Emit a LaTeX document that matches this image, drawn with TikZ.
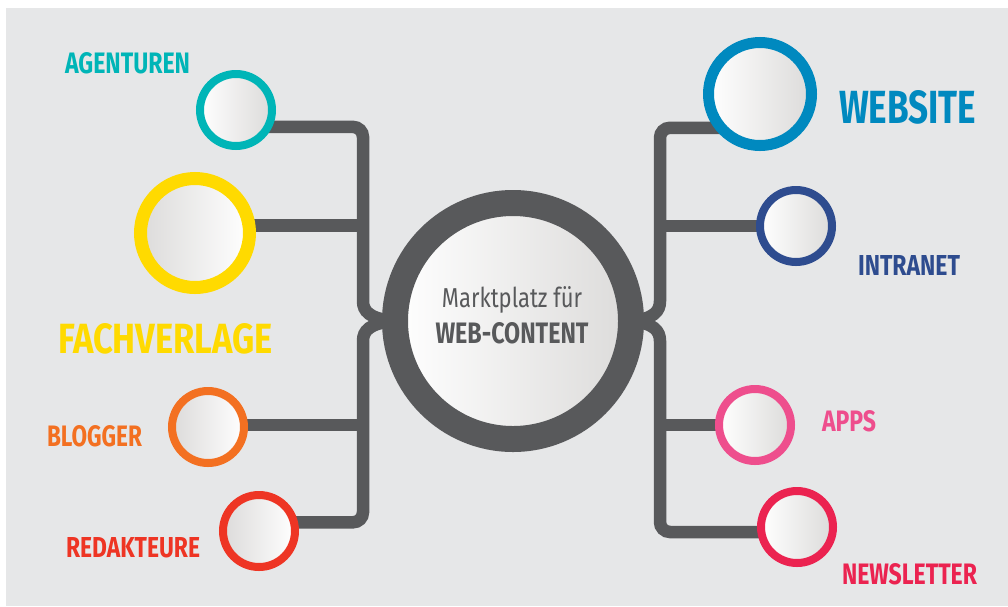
\documentclass[tikz,border=0pt]{standalone}
\usepackage{fontspec}
\setmainfont{Fira Sans}
\usepackage{graphicx}
\definecolor{bgC}{HTML}{E6E7E8}
\definecolor{connC}{HTML}{58595B}
\definecolor{innerG}{HTML}{DCDBDA}
\definecolor{agC}{HTML}{00B5B7}
\definecolor{fvC}{HTML}{FFDA00}
\definecolor{blC}{HTML}{F37021}
\definecolor{rdC}{HTML}{EE3524}
\definecolor{webC}{HTML}{0089BF}
\definecolor{inC}{HTML}{2E4C8F}
\definecolor{apC}{HTML}{EE4E8D}
\definecolor{nlC}{HTML}{EB2350}
\newcommand\lbl[3]{\resizebox{#1pt}{#2pt}{#3}}
\pgfdeclarelayer{bg}
\pgfsetlayers{bg,main}
\begin{document}
\begin{tikzpicture}[x=1pt,y=-1pt,
  bub/.style={circle, inner sep=0pt, outer sep=0pt, draw=#1, minimum size=72pt, line width=8pt},
  shLR/.style={left color=white, right color=innerG},
  shRL/.style={left color=innerG, right color=white},
  conn/.style={draw=connC, line width=12.5pt, rounded corners=10pt},
  lab/.style={inner sep=0pt, outer sep=0pt, anchor=base west, font=\bfseries}]
\useasboundingbox (0,0) rectangle (1008,606);
\begin{pgfonlayer}{bg}
  \fill[white] (0,0) rectangle (1008,606);
  \fill[bgC] (6,8) rectangle (1008,606);
\end{pgfonlayer}
\coordinate (jL) at (363,321);
\coordinate (jR) at (660,321);
% bubbles
\node[bub=agC, shLR] (ag) at (236,110) {};
\node[bub=fvC, shRL, minimum size=109pt, line width=13pt] (fv) at (195,233) {};
\node[bub=blC, shRL] (bl) at (208,427) {};
\node[bub=rdC, shRL] (rd) at (259,531) {};
\node[bub=webC, shLR, minimum size=103pt, line width=11pt] (web) at (760,94) {};
\node[bub=inC, shLR] (in) at (796,226) {};
\node[bub=apC, shLR] (ap) at (755,425) {};
\node[bub=nlC, shLR] (nl) at (797,527) {};
\node[bub=connC, shLR, minimum size=236pt, line width=26pt] (hub) at (513,321) {};
% connectors
\begin{pgfonlayer}{bg}
  \draw[conn] (ag.-28) -- (ag.-28 -| jL) -- ([yshift=30pt]jL) .. controls ([yshift=10pt]jL) and ([xshift=6pt,yshift=2pt]jL) .. (hub.west);
  \draw[conn] (fv.8) -- (fv.8 -| jL);
  \draw[conn] (bl.3) -- (bl.3 -| jL);
  \draw[conn] (rd.14) -- (rd.14 -| jL) -- ([yshift=-30pt]jL) .. controls ([yshift=-10pt]jL) and ([xshift=6pt,yshift=-2pt]jL) .. (hub.west);
  \draw[conn] (web.221) -- (web.221 -| jR) -- ([yshift=30pt]jR) .. controls ([yshift=10pt]jR) and ([xshift=-6pt,yshift=2pt]jR) .. (hub.east);
  \draw[conn] (in.west) -- (in.west -| jR);
  \draw[conn] (ap.west) -- (ap.west -| jR);
  \draw[conn] (nl.188) -- (nl.188 -| jR) -- ([yshift=-30pt]jR) .. controls ([yshift=-10pt]jR) and ([xshift=-6pt,yshift=-2pt]jR) .. (hub.east);
\end{pgfonlayer}
% labels
\node[lab, text=agC] (tag) at (65,73) {\lbl{125}{21}{AGENTUREN}};
\node[lab, text=fvC] (tfv) at (58,353) {\lbl{215}{30}{FACHVERLAGE}};
\node[lab, text=blC] (tbl) at (47,446) {\lbl{95}{21}{BLOGGER}};
\node[lab, text=rdC] (trd) at (66,557) {\lbl{134}{20}{REDAKTEURE}};
\node[lab, text=webC] (tweb) at (839,123) {\lbl{137}{33}{WEBSITE}};
\node[lab, text=inC] (tin) at (858,275) {\lbl{102}{20}{INTRANET}};
\node[lab, text=apC] (tap) at (822,431) {\lbl{54}{21}{APPS}};
\node[lab, text=nlC] (tnl) at (842,584) {\lbl{135}{21}{NEWSLETTER}};
\node[inner sep=0pt, anchor=base, text=connC] (t1) at (512,307) {\lbl{140}{21}{Marktplatz für}};
\node[inner sep=0pt, anchor=base, text=connC, font=\bfseries] (t2) at (512,343) {\lbl{153}{21}{WEB-CONTENT}};
\end{tikzpicture}
\end{document}
